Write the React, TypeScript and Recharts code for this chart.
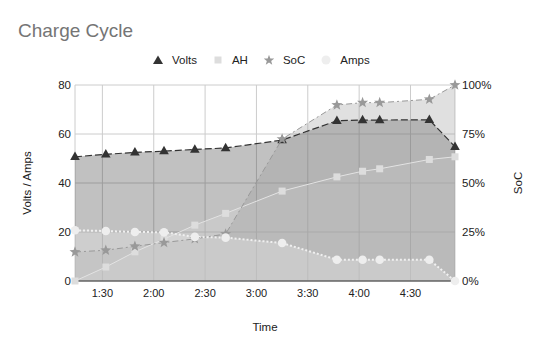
import React from 'react';
import { ComposedChart, Area, Line, XAxis, YAxis, CartesianGrid } from 'recharts';

// time in minutes since midnight
const times = [74, 92, 109, 126, 144, 162, 195, 227, 242, 252, 281, 296];
const volts = [50.7, 51.7, 52.5, 53.0, 53.7, 54.3, 57.5, 65.4, 65.7, 65.7, 65.8, 54.8];
const ah = [0, 5.7, 11.9, 17.1, 22.8, 27.6, 36.7, 42.5, 44.8, 45.8, 49.6, 50.7];
const soc = [14.8, 15.7, 17.7, 19.6, 21.5, 24, 72.4, 89.8, 91, 91, 92.7, 100];
const amps = [20.7, 20.4, 20.0, 19.9, 18.0, 17.7, 15.5, 8.7, 8.7, 8.7, 8.7, 0];

const timeTicks = [90, 120, 150, 180, 210, 240, 270];
const leftTicks = [0, 20, 40, 60, 80];
const rightTicks = [0, 25, 50, 75, 100];

const data = times.map((t, i) => ({
  t,
  volts: volts[i],
  ah: ah[i],
  soc: soc[i],
  amps: amps[i],
}));

const FONT = "'Liberation Sans', Arial, sans-serif";

const fmtTime = (m: number) => `${Math.floor(m / 60)}:${String(m % 60).padStart(2, '0')}`;

const starPath = (cx: number, cy: number, ro: number, ri: number) => {
  let d = '';
  for (let k = 0; k < 10; k++) {
    const r = k % 2 === 0 ? ro : ri;
    const a = -Math.PI / 2 + (k * Math.PI) / 5;
    d += `${k === 0 ? 'M' : 'L'}${cx + r * Math.cos(a)},${cy + r * Math.sin(a)}`;
  }
  return d + 'Z';
};

const TriangleDot = (p: any) => (
  <path key={`v${p.index}`} d={`M${p.cx},${p.cy - 5.3}L${p.cx + 4.8},${p.cy + 3.2}L${p.cx - 4.8},${p.cy + 3.2}Z`} fill="#333" />
);
const SquareDot = (p: any) => (
  <rect key={`a${p.index}`} x={p.cx - 3.5} y={p.cy - 3.5} width={7} height={7} fill="#ddd" />
);
const StarDot = (p: any) => <path key={`s${p.index}`} d={starPath(p.cx, p.cy, 5.8, 2.4)} fill="#999" />;
const CircleDot = (p: any) => <circle key={`c${p.index}`} cx={p.cx} cy={p.cy} r={4.3} fill="#eee" />;

const legendItems = [
  { name: 'Volts', icon: <path d="M5,0.5L10,9L0,9Z" fill="#333" /> },
  { name: 'AH', icon: <rect x={1.5} y={1.5} width={7} height={7} fill="#ddd" /> },
  { name: 'SoC', icon: <path d={starPath(5, 5.3, 5.5, 2.3)} fill="#999" /> },
  { name: 'Amps', icon: <circle cx={5} cy={5} r={4.5} fill="#eee" /> },
];

export default function App() {
  return (
    <div style={{ position: 'absolute', left: 0, top: 0, width: 543, height: 351, background: '#fff', fontFamily: FONT }}>
      <div style={{ position: 'absolute', left: 18, top: 21, fontSize: 19, lineHeight: 1, color: '#757575' }}>
        Charge Cycle
      </div>
      <div style={{ position: 'absolute', left: 153, top: 53, height: 14, display: 'flex', alignItems: 'center', fontSize: 11.5, color: '#222' }}>
        {legendItems.map((it) => (
          <div key={it.name} style={{ display: 'flex', alignItems: 'center', marginRight: 16 }}>
            <svg width={10} height={10} style={{ marginRight: 9 }}>{it.icon}</svg>
            <span>{it.name}</span>
          </div>
        ))}
      </div>
      <ComposedChart width={543} height={351} data={data} margin={{ top: 85, right: 0, bottom: 0, left: 0 }}>
        <CartesianGrid stroke="#ccc" xAxisId="x" yAxisId="left" />
        <XAxis
          xAxisId="x"
          dataKey="t"
          type="number"
          domain={[74, 296]}
          ticks={timeTicks}
          interval={0}
          tickFormatter={fmtTime}
          height={70}
          tickSize={0}
          tickMargin={8}
          tick={{ fill: '#222', fontSize: 11, fontFamily: FONT }}
          axisLine={{ stroke: '#333' }}
          label={{ value: 'Time', position: 'insideBottom', offset: 20, fill: '#222', fontSize: 11.5, fontFamily: FONT }}
        />
        <YAxis
          yAxisId="left"
          domain={[0, 80]}
          ticks={leftTicks}
          width={75}
          tickSize={0}
          tickMargin={4}
          axisLine={false}
          tick={{ fill: '#222', fontSize: 11.5, fontFamily: FONT }}
          label={{ value: 'Volts / Amps', angle: -90, position: 'insideLeft', offset: 27, style: { textAnchor: 'middle' }, fill: '#222', fontSize: 11.5, fontFamily: FONT }}
        />
        <YAxis
          yAxisId="right"
          orientation="right"
          domain={[0, 100]}
          ticks={rightTicks}
          tickFormatter={(v: number) => `${v}%`}
          width={88}
          tickSize={0}
          tickMargin={7}
          axisLine={false}
          tick={{ fill: '#222', fontSize: 11.5, fontFamily: FONT }}
          label={{ value: 'SoC', angle: -90, position: 'insideRight', offset: 25, style: { textAnchor: 'middle' }, fill: '#222', fontSize: 11.5, fontFamily: FONT }}
        />
        <Area xAxisId="x" yAxisId="left" type="linear" dataKey="volts" stroke="none" fill="#333" fillOpacity={0.3} isAnimationActive={false} />
        <Area xAxisId="x" yAxisId="left" type="linear" dataKey="ah" stroke="none" fill="#ddd" fillOpacity={0.3} isAnimationActive={false} />
        <Area xAxisId="x" yAxisId="right" type="linear" dataKey="soc" stroke="none" fill="#999" fillOpacity={0.3} isAnimationActive={false} />
        <Area xAxisId="x" yAxisId="left" type="linear" dataKey="amps" stroke="none" fill="#eee" fillOpacity={0.3} isAnimationActive={false} />
        <Line xAxisId="x" yAxisId="left" type="linear" dataKey="volts" stroke="#333" strokeWidth={1.2} strokeDasharray="7 3" dot={TriangleDot} activeDot={false} isAnimationActive={false} />
        <Line xAxisId="x" yAxisId="left" type="linear" dataKey="ah" stroke="#e3e3e3" strokeWidth={1} dot={SquareDot} activeDot={false} isAnimationActive={false} />
        <Line xAxisId="x" yAxisId="right" type="linear" dataKey="soc" stroke="#999" strokeWidth={1} strokeDasharray="6 3 2 3" dot={StarDot} activeDot={false} isAnimationActive={false} />
        <Line xAxisId="x" yAxisId="left" type="linear" dataKey="amps" stroke="#f0f0f0" strokeWidth={2} strokeDasharray="2 2" dot={CircleDot} activeDot={false} isAnimationActive={false} />
      </ComposedChart>
    </div>
  );
}
